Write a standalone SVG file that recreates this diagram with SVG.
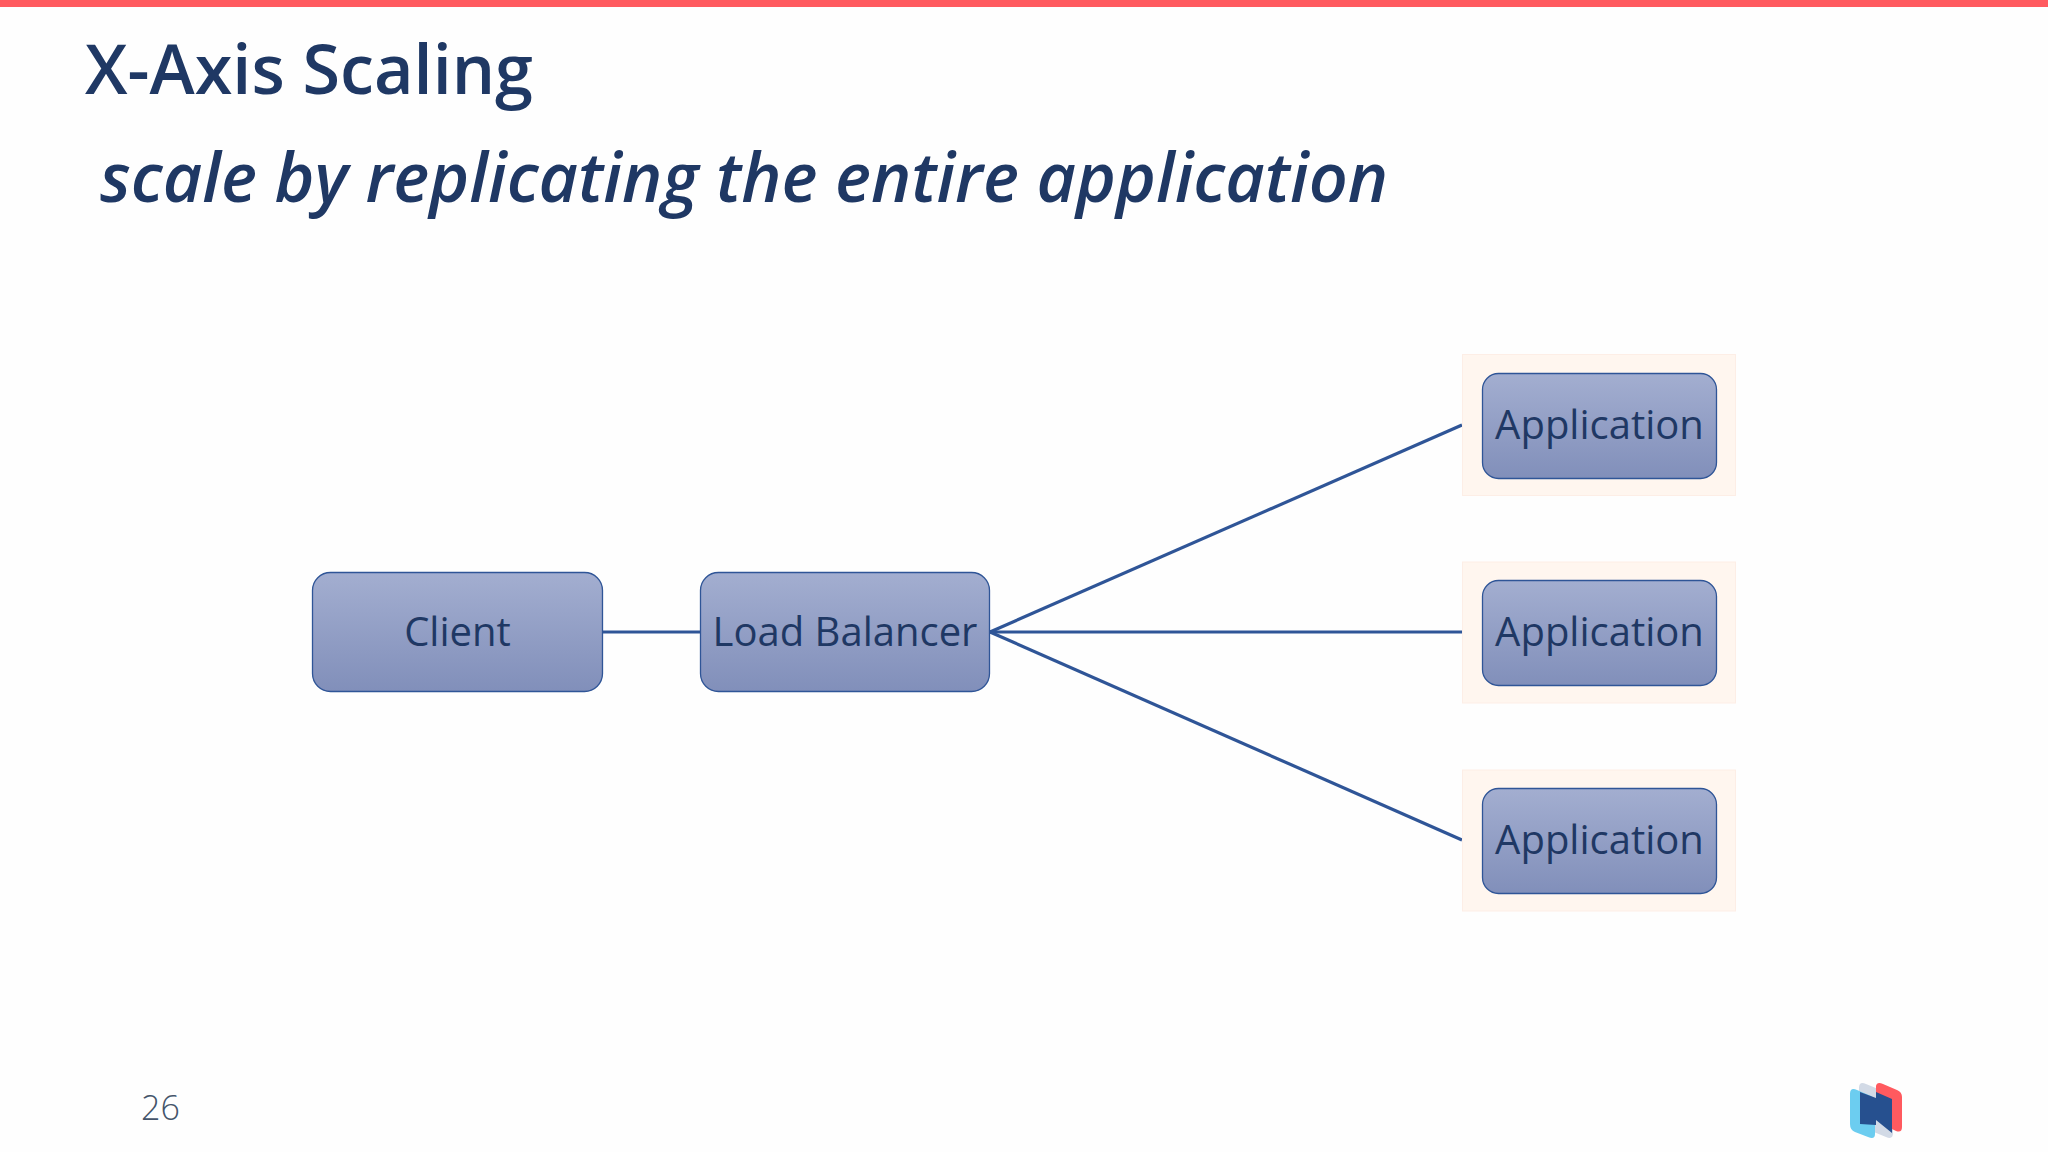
<svg xmlns="http://www.w3.org/2000/svg" width="2048" height="1152" viewBox="0 0 2048 1152">
<style>
.t{font-family:"Open Sans","Noto Sans","Liberation Sans",sans-serif;fill:#1f3864}
.lbl{font-size:40px;text-anchor:middle}
.box{fill:url(#g);stroke:#2f5597;stroke-width:1.3}
.tile{fill:#fff6ef;stroke:#fdeee6;stroke-width:1}
.c{stroke:#2f5597;stroke-width:3.2;fill:none}
</style>
<defs><linearGradient id="g" x1="0" y1="0" x2="0" y2="1"><stop offset="0" stop-color="#a3aed0"/><stop offset="1" stop-color="#818fba"/></linearGradient></defs>
<rect width="2048" height="1152" fill="#fefefe"/>
<rect width="2048" height="7" fill="#ff5a5f"/>
<text class="t" x="85" y="94" font-size="69" font-weight="600" textLength="448" lengthAdjust="spacingAndGlyphs">X-Axis Scaling</text>
<text class="t" x="100" y="202" font-size="69" font-weight="600" font-style="italic" textLength="1288" lengthAdjust="spacingAndGlyphs">scale by replicating the entire application</text>
<g id="connectors">
<path class="c" d="M602 632H700"/>
<path class="c" d="M990 632L1462 425"/>
<path class="c" d="M990 632H1462"/>
<path class="c" d="M990 632L1462 840"/>
</g>
<g id="client"><rect class="box" x="312.500" y="572.500" width="290" height="119" rx="18"/><text class="t lbl" x="457.500" y="646">Client</text></g>
<g id="load-balancer"><rect class="box" x="700.500" y="572.500" width="289" height="119" rx="18"/><text class="t lbl" x="845" y="646">Load Balancer</text></g>
<g id="app1"><rect class="tile" x="1462.500" y="354.500" width="273" height="141"/><rect class="box" x="1482.500" y="373.500" width="234" height="105" rx="16"/><text class="t lbl" x="1599.500" y="439">Application</text></g>
<g id="app2"><rect class="tile" x="1462.500" y="562" width="273" height="141"/><rect class="box" x="1482.500" y="580.500" width="234" height="105" rx="16"/><text class="t lbl" x="1599.500" y="646">Application</text></g>
<g id="app3"><rect class="tile" x="1462.500" y="770" width="273" height="141"/><rect class="box" x="1482.500" y="788.500" width="234" height="105" rx="16"/><text class="t lbl" x="1599.500" y="854">Application</text></g>
<text class="t" x="141" y="1120" font-size="34" font-weight="300" fill="#44546a" style="fill:#44546a">26</text>
<g id="logo">
<path d="M1859 1088Q1859 1081 1866 1084L1888 1093Q1893 1095 1893 1101V1133Q1893 1140 1886 1137L1864 1128Q1859 1126 1859 1120Z" fill="#d2dae6"/>
<path d="M1850 1094Q1850 1087 1857 1090L1871 1096Q1875 1098 1875 1103V1134Q1875 1140 1868 1137L1855 1132Q1850 1130 1850 1124Z" fill="#6ccdf0"/>
<path d="M1876 1086Q1877 1081 1883 1084L1897 1090Q1902 1092 1902 1097V1127Q1902 1133 1896 1131L1892 1129V1102L1876 1095Z" fill="#ff5a5f"/>
<path d="M1860 1092L1876 1098V1092L1892 1099V1133L1876 1120V1125L1860 1124Z" fill="#26508f"/>
</g>
</svg>
